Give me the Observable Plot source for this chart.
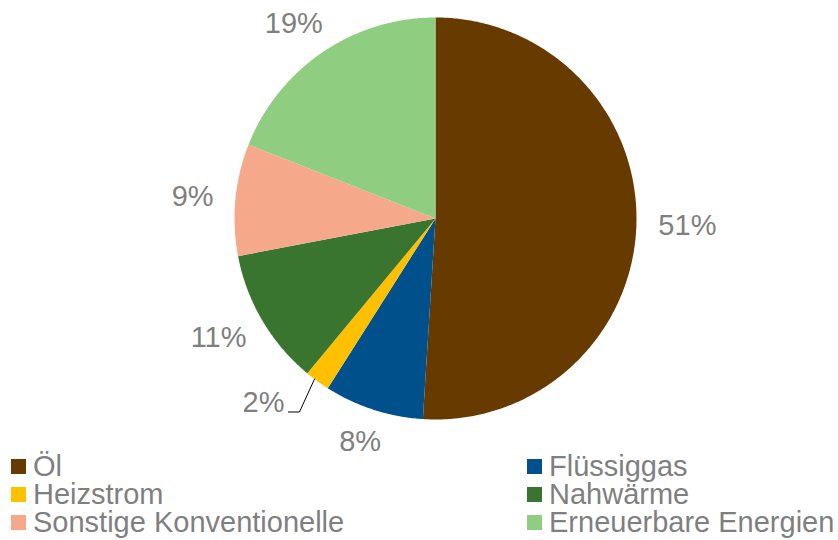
<!DOCTYPE html>
<html>
<head>
<meta charset="utf-8">
<script src="https://cdn.jsdelivr.net/npm/d3@7"></script>
<script src="https://cdn.jsdelivr.net/npm/@observablehq/plot@0.6"></script>
<style>
  html, body { margin: 0; padding: 0; background: #fff; }
  #chart { width: 838px; height: 540px; position: relative; font-family: "Liberation Sans", Arial, sans-serif; }
  #plot { position: absolute; left: 0; top: 0; }
  #legend { position: absolute; left: 0; top: 452px; width: 838px; }
  .item { position: absolute; height: 28px; line-height: 28px; font-size: 29px; color: #7f7f7f; white-space: nowrap; }
  .sw { position: absolute; left: 0; top: 7px; width: 15px; height: 15px; }
  .lbl { position: absolute; left: 22px; top: 0; }
</style>
</head>
<body>
<div id="chart"><div id="plot"></div><div id="legend"></div></div>
<script>
const categories = ["Öl", "Flüssiggas", "Heizstrom", "Nahwärme", "Sonstige Konventionelle", "Erneuerbare Energien"];
const shares = [51, 8, 2, 11, 9, 19];
const colors = ["#673a00", "#00508c", "#ffc000", "#3a7530", "#f5a98a", "#8fce80"];

const W = 838, H = 540, R = 201, CX = 435, CY = 218, FS = 29;
const arcs = d3.pie().sort(null).value(d => d)(shares);

// wedge polygons in unit-circle coordinates (y up)
const wedgePts = [];
arcs.forEach((a, i) => {
  const name = categories[i];
  wedgePts.push({name, x: 0, y: 0});
  const n = Math.max(4, Math.ceil((a.endAngle - a.startAngle) / (Math.PI / 360)));
  for (let k = 0; k <= n; k++) {
    const t = a.startAngle + (a.endAngle - a.startAngle) * k / n;
    wedgePts.push({name, x: Math.sin(t), y: Math.cos(t)});
  }
});

// outside-end labels: box just outside the rim
const px = 1 / R;
const gap = 22 * px;
const labels = [];
const leaders = [];
arcs.forEach((a, i) => {
  const mid = (a.startAngle + a.endAngle) / 2;
  const text = shares[i] + "%";
  const w = (String(shares[i]).length * 0.556 + 0.889) * FS * px;
  const h = 24 * px;
  if (shares[i] < 3) {
    const la = mid + 7 * Math.PI / 180;
    const lx = 1.255 * Math.sin(la), ly = 1.255 * Math.cos(la);
    labels.push({x: lx, y: ly, text});
    const sa = mid + 1 * Math.PI / 180;
    leaders.push({g: i, x: Math.sin(sa), y: Math.cos(sa)});
    leaders.push({g: i, x: lx + 36 * px, y: ly - 9 * px});
    leaders.push({g: i, x: lx + 25 * px, y: ly - 9 * px});
  } else {
    const dx = Math.sin(mid), dy = Math.cos(mid);
    labels.push({x: dx * (1 + gap) + dx * w / 2, y: dy * (1 + gap) + dy * h / 2, text});
  }
});

const plot = Plot.plot({
  width: W,
  height: H,
  margin: 0,
  x: {domain: [-CX / R, (W - CX) / R], range: [0, W], axis: null},
  y: {domain: [CY / R, (CY - H) / R], range: [0, H], axis: null},
  color: {domain: categories, range: colors},
  style: {fontFamily: "'Liberation Sans', Arial, sans-serif", background: "white"},
  marks: [
    Plot.line(wedgePts, {x: "x", y: "y", z: "name", fill: "name", stroke: "none", curve: "linear-closed"}),
    Plot.line(leaders, {x: "x", y: "y", z: "g", stroke: "#000", strokeWidth: 1}),
    Plot.text(labels, {x: "x", y: "y", text: "text", fontSize: FS, fill: "#7f7f7f"})
  ]
});
document.getElementById("plot").appendChild(plot);

// legend (two columns, three rows)
const legend = document.getElementById("legend");
const colX = [11, 527];
categories.forEach((c, i) => {
  const col = i % 2, row = Math.floor(i / 2);
  const div = document.createElement("div");
  div.className = "item";
  div.style.left = colX[col] + "px";
  div.style.top = (row * 28) + "px";
  const sw = document.createElement("span");
  sw.className = "sw";
  sw.style.background = colors[i];
  const lb = document.createElement("span");
  lb.className = "lbl";
  lb.textContent = c;
  div.appendChild(sw);
  div.appendChild(lb);
  legend.appendChild(div);
});
</script>
</body>
</html>
